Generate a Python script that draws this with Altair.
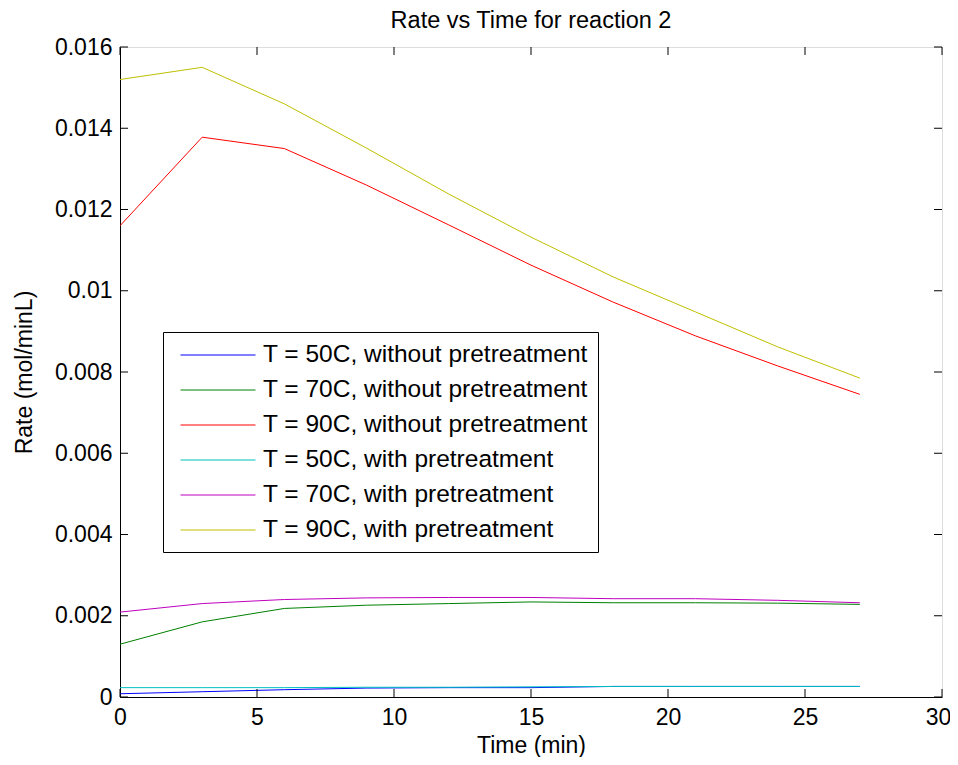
import altair as alt
import pandas as pd

# ---- data ----
time_min = [0, 3, 6, 9, 12, 15, 18, 21, 24, 27]

series_names = [
    "T = 50C, without pretreatment",
    "T = 70C, without pretreatment",
    "T = 90C, without pretreatment",
    "T = 50C, with pretreatment",
    "T = 70C, with pretreatment",
    "T = 90C, with pretreatment",
]
series_colors = ["#0000ff", "#008000", "#ff0000", "#00bfbf", "#bf00bf", "#bfbf00"]

rate_50_without = [0.00008, 0.00013, 0.00018, 0.00022, 0.00023, 0.00023, 0.00026, 0.00026, 0.00026, 0.00026]
rate_70_without = [0.00130, 0.00185, 0.00218, 0.00226, 0.00230, 0.00234, 0.00232, 0.00232, 0.00231, 0.00228]
rate_90_without = [0.01160, 0.01378, 0.01350, 0.01260, 0.01162, 0.01063, 0.00972, 0.00889, 0.00815, 0.00745]
rate_50_with = [0.00023, 0.00023, 0.00023, 0.00024, 0.00024, 0.00025, 0.00026, 0.00026, 0.00026, 0.00026]
rate_70_with = [0.00209, 0.00230, 0.00240, 0.00244, 0.00245, 0.00245, 0.00242, 0.00242, 0.00238, 0.00232]
rate_90_with = [0.01520, 0.01550, 0.01460, 0.01351, 0.01238, 0.01132, 0.01034, 0.00948, 0.00862, 0.00785]

all_rates = [rate_50_without, rate_70_without, rate_90_without,
             rate_50_with, rate_70_with, rate_90_with]

x_ticks = [0, 5, 10, 15, 20, 25, 30]
y_ticks = [0, 0.002, 0.004, 0.006, 0.008, 0.010, 0.012, 0.014, 0.016]

rows = []
for k, (name, vals) in enumerate(zip(series_names, all_rates)):
    for t, v in zip(time_min, vals):
        rows.append({"series": name, "order": k, "time": t, "rate": v})
df = pd.DataFrame(rows)

FONT = "Liberation Sans"
W, H = 822, 650
TICK = 8

x_scale = alt.Scale(domain=[0, 30], nice=False, zero=False)
y_scale = alt.Scale(domain=[0, 0.016], nice=False, zero=False)

lines = alt.Chart(df).mark_line(strokeWidth=1, clip=True).encode(
    x=alt.X("time:Q", scale=x_scale,
            axis=alt.Axis(title="Time (min)", values=x_ticks, tickSize=0,
                          labelFontSize=23, labelFont=FONT, labelColor="black",
                          labelPadding=9, titleFontSize=23, titleFont=FONT,
                          titleFontWeight="normal", titleColor="black",
                          titlePadding=5, domainColor="black", grid=False,
                          labelFlush=False,
                          labelOffset={"condition": {"test": "datum.value == 30", "value": -4},
                                       "value": 0})),
    y=alt.Y("rate:Q", scale=y_scale,
            axis=alt.Axis(title="Rate (mol/minL)", values=y_ticks, tickSize=0,
                          labelExpr="format(datum.value, '~g')",
                          labelFontSize=23, labelFont=FONT, labelColor="black",
                          labelPadding=8, titleFontSize=23, titleFont=FONT,
                          titleFontWeight="normal", titleColor="black",
                          titlePadding=18, domainColor="black", grid=False,
                          labelFlush=False)),
    color=alt.Color("series:N",
                    scale=alt.Scale(domain=series_names, range=series_colors),
                    legend=alt.Legend(orient="none", legendX=43, legendY=285,
                                      title=None,
                                      symbolType="M-0.44,0L5.56,0",
                                      symbolSize=625, symbolStrokeWidth=1,
                                      labelFontSize=24.5, labelFont=FONT,
                                      labelColor="black", labelLimit=600,
                                      labelOffset=64, fillColor="white",
                                      strokeColor="black", padding=10,
                                      rowPadding=10)),
    order=alt.Order("order:Q"),
    detail="series:N",
)

xt = pd.DataFrame({"v": x_ticks})
yt = pd.DataFrame({"v": y_ticks})

tick_style = dict(color="black", strokeWidth=1)
xb = alt.Chart(xt).mark_rule(**tick_style).encode(
    x=alt.X("v:Q", scale=x_scale), y=alt.value(H), y2=alt.value(H - TICK))
xtop = alt.Chart(xt).mark_rule(**tick_style).encode(
    x=alt.X("v:Q", scale=x_scale), y=alt.value(0), y2=alt.value(TICK))
yl = alt.Chart(yt).mark_rule(**tick_style).encode(
    y=alt.Y("v:Q", scale=y_scale), x=alt.value(0), x2=alt.value(TICK))
yr = alt.Chart(yt).mark_rule(**tick_style).encode(
    y=alt.Y("v:Q", scale=y_scale), x=alt.value(W), x2=alt.value(W - TICK))

chart = alt.layer(lines, xb, xtop, yl, yr).properties(
    width=W, height=H,
    title=alt.TitleParams("Rate vs Time for reaction 2", fontSize=23.5,
                          font=FONT, fontWeight="normal", color="black",
                          anchor="middle", offset=4),
    autosize=alt.AutoSizeParams(type="none"),
    padding={"left": 112, "top": 39, "right": 8, "bottom": 60},
).configure_view(stroke="black", strokeWidth=1).configure(background="white")

chart.save("out.html", embed_options={"renderer": "svg", "actions": False})
